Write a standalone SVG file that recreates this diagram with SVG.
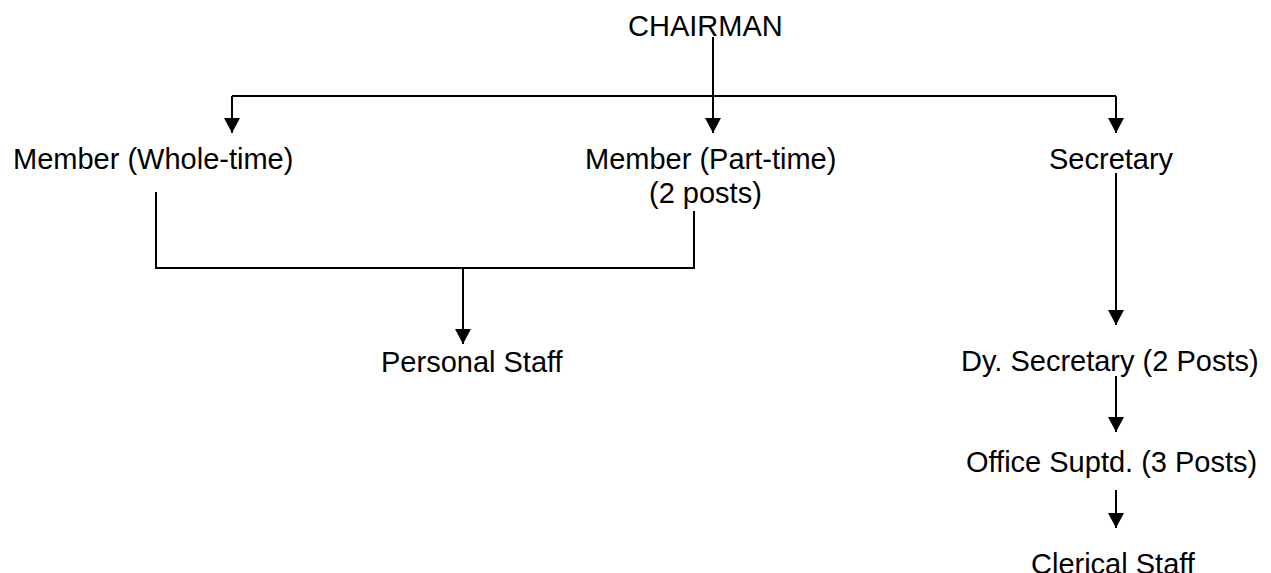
<svg xmlns="http://www.w3.org/2000/svg" width="1271" height="573" viewBox="0 0 1271 573">
<style>
text{font-family:"Liberation Sans",Arial,sans-serif;font-size:29px;fill:#000}
.c{fill:none;stroke:#000;stroke-width:2}
</style>
<defs>
<marker id="ah" viewBox="0 0 15 16" refX="15" refY="8" markerWidth="15" markerHeight="16" markerUnits="userSpaceOnUse" orient="auto">
<path d="M0,0 L15,8 L0,16 z" fill="#000"/>
</marker>
</defs>
<rect width="1271" height="573" fill="#fff"/>
<g id="connectors">
<path class="c" d="M232,96 H1116"/>
<path class="c" d="M713,37 V133" marker-end="url(#ah)"/>
<path class="c" d="M232,96 V133" marker-end="url(#ah)"/>
<path class="c" d="M1116,96 V133" marker-end="url(#ah)"/>
<path class="c" d="M156,192 V268 H694 V211"/>
<path class="c" d="M463,268 V344" marker-end="url(#ah)"/>
<path class="c" d="M1116,173 V325" marker-end="url(#ah)"/>
<path class="c" d="M1116,376 V432" marker-end="url(#ah)"/>
<path class="c" d="M1116,490 V528" marker-end="url(#ah)"/>
</g>
<g id="chairman"><text x="628" y="36">CHAIRMAN</text></g>
<g id="member-whole"><text x="13" y="169">Member (Whole-time)</text></g>
<g id="member-part"><text x="585" y="169">Member (Part-time)</text><text x="649" y="203">(2 posts)</text></g>
<g id="secretary"><text x="1049" y="169">Secretary</text></g>
<g id="personal-staff"><text x="381" y="372">Personal Staff</text></g>
<g id="dy-secretary"><text x="961" y="371">Dy. Secretary (2 Posts)</text></g>
<g id="office-suptd"><text x="966" y="472">Office Suptd. (3 Posts)</text></g>
<g id="clerical-staff"><text x="1031" y="574">Clerical Staff</text></g>
</svg>
